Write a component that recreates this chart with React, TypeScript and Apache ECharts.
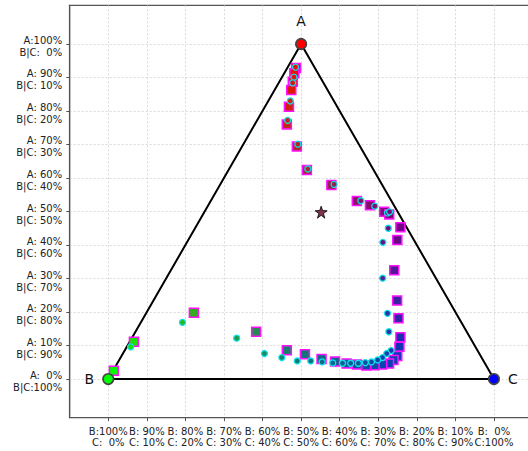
import React, { useEffect, useRef } from 'react';
import * as echarts from 'echarts';

// Ternary compositions in percent (A, C); B = 100 - A - C
const cornerLabels = ['A', 'B', 'C'];
const cornerA = [100, 0, 0];
const cornerC = [0, 0, 100];

const squareA = [92.8, 91.3, 88.7, 86.3, 81.3, 76.0, 69.4, 62.4, 57.9, 53.1, 51.9, 49.9, 49.1, 45.3, 41.5, 32.5, 23.4, 18.1, 12.5, 9.6, 6.9, 5.7, 4.6, 4.3, 4.1, 4.0, 4.3, 4.6, 5.2, 6.0, 7.4, 8.6, 14.1, 19.8, 11.1, 2.5];
const squareC = [2.3, 2.6, 3.5, 4.3, 6.2, 8.3, 14.2, 20.3, 28.9, 37.9, 41.9, 46.6, 48.3, 53.1, 54.2, 57.9, 63.2, 66.2, 69.5, 70.7, 71.5, 71.1, 70.5, 68.9, 67.0, 64.9, 62.3, 59.5, 56.2, 52.3, 47.3, 42.0, 31.3, 12.3, 1.1, 0.2];

const circleA = [93.1, 90.1, 88.4, 83.0, 77.2, 70.1, 62.7, 58.1, 53.2, 51.6, 49.6, 49.9, 45.0, 40.8, 30.1, 19.6, 14.1, 8.5, 7.6, 6.4, 5.7, 5.1, 4.9, 4.7, 4.7, 4.7, 4.8, 5.1, 5.4, 5.4, 6.4, 7.6, 12.2, 16.9, 9.6];
const circleC = [2.0, 3.1, 3.6, 5.7, 7.9, 14.1, 20.4, 29.5, 38.9, 43.3, 47.6, 48.0, 50.1, 50.8, 56.1, 62.6, 65.7, 69.1, 68.4, 67.9, 67.0, 65.7, 64.2, 62.5, 60.5, 58.4, 55.8, 52.9, 49.8, 46.3, 41.8, 36.7, 27.2, 10.8, 1.0];

const starA = [49.8];
const starC = [30.3];

const tickPercents = [0, 10, 20, 30, 40, 50, 60, 70, 80, 90, 100];

const project = (a: number, c: number) => [(c + a / 2) / 100, a / 100];
const compColor = (a: number, c: number) => {
  const b = Math.max(0, 100 - a - c);
  const f = (v: number) => Math.round(Math.max(0, Math.min(100, v)) * 2.55);
  return `rgb(${f(a)},${f(b)},${f(c)})`;
};
const pad3 = (n: number) => {
  const s = String(n);
  return s.length >= 3 ? s : ' '.repeat(3 - s.length) + s;
};

const FONT = 'DejaVu Sans';

export default function App() {
  const ref = useRef<HTMLDivElement>(null);
  useEffect(() => {
    if (!ref.current) return;
    const chart = echarts.init(ref.current, null, { renderer: 'svg' });
    const tickVals = tickPercents.map((p) => p / 100);
    const triangle = [0, 1, 2, 0].map((i) => project(cornerA[i], cornerC[i]));
    const ymin = -0.1 / (Math.sqrt(3) / 2);
    const axisLine = { show: true, onZero: false, lineStyle: { color: '#555555', width: 1.2 } };
    const option: any = {
      animation: false,
      backgroundColor: '#ffffff',
      textStyle: { fontFamily: FONT },
      grid: {
        left: 69.7,
        top: 5.3,
        width: 462.8,
        height: 412.4,
        show: true,
        borderColor: '#555555',
        borderWidth: 1.2,
        backgroundColor: 'transparent',
        containLabel: false,
        outerBoundsMode: 'none',
      },
      xAxis: {
        type: 'value',
        position: 'bottom',
        min: -0.1,
        max: 1.1,
        interval: 0.1,
        axisLine,
        axisTick: {
          show: true,
          inside: false,
          customValues: tickVals,
          length: 3.5,
          lineStyle: { color: '#333333', width: 0.8 },
        },
        axisLabel: {
          customValues: tickVals,
          showMinLabel: true,
          showMaxLabel: true,
          margin: 8,
          fontFamily: FONT,
          fontSize: 10,
          lineHeight: 11,
          color: '#222222',
          formatter: (v: number) => {
            const c = Math.round(v * 100);
            return `B:${pad3(100 - c)}%\nC:${pad3(c)}%`;
          },
        },
        splitLine: {
          show: true,
          lineStyle: { color: '#d0d0d0', width: 0.8, type: [2, 2] },
        },
      },
      yAxis: {
        type: 'value',
        position: 'left',
        min: ymin,
        max: 1 - ymin,
        axisLine,
        axisTick: {
          show: true,
          inside: false,
          customValues: tickVals,
          length: 3.5,
          lineStyle: { color: '#333333', width: 0.8 },
        },
        axisLabel: {
          customValues: tickVals,
          showMinLabel: true,
          showMaxLabel: true,
          margin: 7.5,
          fontFamily: FONT,
          fontSize: 10,
          color: '#222222',
          formatter: (v: number) => {
            const a = Math.round(v * 100);
            return `{s| }\n{t|A:${pad3(a)}%}\n{t|B|C:${pad3(100 - a)}%}`;
          },
          rich: {
            s: { fontSize: 1, lineHeight: 5 },
            t: { fontFamily: FONT, fontSize: 10, lineHeight: 12, color: '#222222', align: 'right' },
          },
        },
        splitLine: {
          show: true,
          lineStyle: { color: '#d0d0d0', width: 0.8, type: [2, 2] },
        },
      },
      series: [
        {
          type: 'line',
          data: triangle,
          symbol: 'none',
          lineStyle: { color: '#000000', width: 2 },
          z: 2,
        },
        {
          type: 'scatter',
          symbol: 'rect',
          symbolSize: 9,
          data: squareA.map((a, i) => ({
            value: project(a, squareC[i]),
            itemStyle: { color: compColor(a, squareC[i]) },
          })),
          itemStyle: { borderColor: '#ff10ff', borderWidth: 1.5, opacity: 1 },
          z: 3,
        },
        {
          type: 'scatter',
          symbol: 'circle',
          symbolSize: 6,
          data: circleA.map((a, i) => ({
            value: project(a, circleC[i]),
            itemStyle: { color: compColor(a, circleC[i]) },
          })),
          itemStyle: { borderColor: '#10e0e8', borderWidth: 1.3, opacity: 1 },
          z: 4,
        },
        {
          type: 'scatter',
          symbol: 'circle',
          symbolSize: 10.5,
          data: cornerLabels.map((name, i) => ({
            value: project(cornerA[i], cornerC[i]),
            name,
            itemStyle: { color: compColor(cornerA[i], cornerC[i]) },
            label: {
              show: true,
              formatter: name,
              position: i === 0 ? 'top' : i === 1 ? 'left' : 'right',
              distance: i === 0 ? 10 : 8,
              fontFamily: FONT,
              fontSize: 14,
              color: '#111111',
            },
          })),
          itemStyle: { borderColor: '#444444', borderWidth: 1.6, opacity: 1 },
          z: 5,
        },
        {
          type: 'scatter',
          symbol:
            'path://M50,0 L61.8,36.2 L100,38.2 L69.1,61.8 L80.9,100 L50,76.4 L19.1,100 L30.9,61.8 L0,38.2 L38.2,36.2 Z',
          symbolSize: 12,
          data: starA.map((a, i) => ({
            value: project(a, starC[i]),
            itemStyle: { color: compColor(a, starC[i]) },
          })),
          itemStyle: { borderColor: '#000000', borderWidth: 0.8, opacity: 1 },
          z: 6,
        },
      ],
    };
    chart.setOption(option);
    return () => chart.dispose();
  }, []);
  return (
    <div
      ref={ref}
      style={{ position: 'absolute', left: 0, top: 0, width: 528, height: 451, background: '#fff' }}
    />
  );
}
